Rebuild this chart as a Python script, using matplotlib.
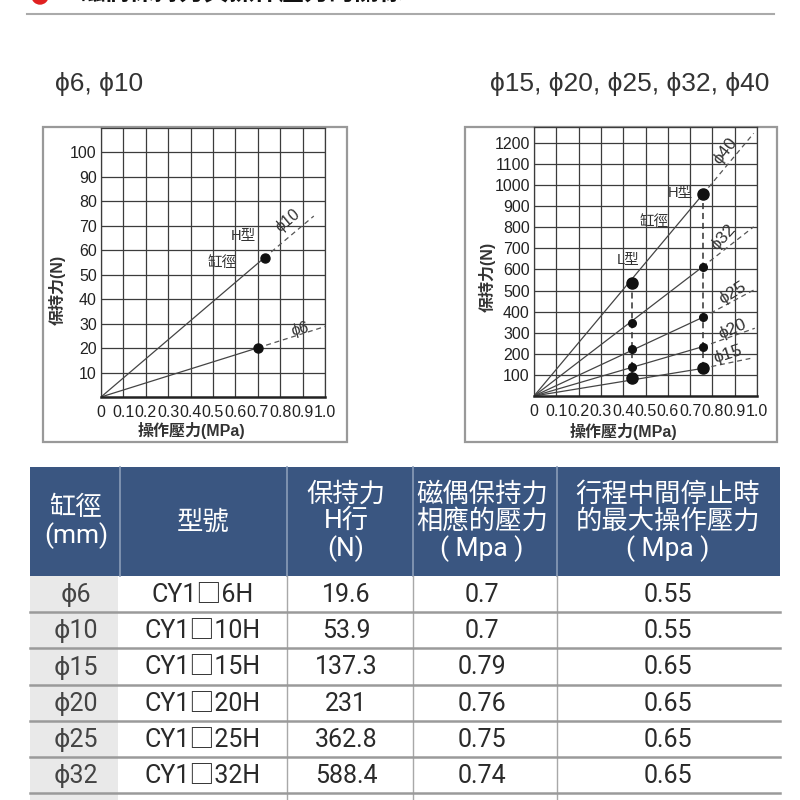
import matplotlib
matplotlib.use('Agg')
import matplotlib.pyplot as plt
from matplotlib.patches import Rectangle, Circle

W, H = 800, 800
FAM = ['Liberation Sans', 'Noto Sans CJK TC', 'DejaVu Sans']
TFAM = ['Roboto', 'Noto Sans CJK TC', 'DejaVu Sans']
plt.rcParams['font.family'] = FAM

# ---------------- data ----------------
title_text = "磁偶保持力與操作壓力的關係"
left_title = "ϕ6, ϕ10"
right_title = "ϕ15, ϕ20, ϕ25, ϕ32, ϕ40"

x_ticks = [0, 0.1, 0.2, 0.3, 0.4, 0.5, 0.6, 0.7, 0.8, 0.9, 1.0]
x_tick_labels = ["0", "0.1", "0.2", "0.3", "0.4", "0.5", "0.6", "0.7", "0.8", "0.9", "1.0"]
left_y_ticks = [10, 20, 30, 40, 50, 60, 70, 80, 90, 100]
right_y_ticks = [100, 200, 300, 400, 500, 600, 700, 800, 900, 1000, 1100, 1200]
x_label = "操作壓力(MPa)"
y_label = "保持力(N)"

# left chart (phi6, phi10), H type
left_bores = ["ϕ6", "ϕ10"]
left_dot_p = [0.70, 0.73]
left_dot_f = [20.1, 57.0]
left_end_p = [1.0, 0.95]
left_end_f = [28.8, 74.0]

# right chart (phi15 .. phi40)
right_bores = ["ϕ15", "ϕ20", "ϕ25", "ϕ32", "ϕ40"]
L_pressure = 0.44
L_force = [84, 136, 223, 347, 537]
H_pressure = 0.757
H_force = [131, 234, 373, 613, 956]
right_end_p = [0.97, 0.99, 0.985, 0.985, 0.985]
right_end_f = [178, 321, 502, 802, 1245]

# table
table_header = ["缸徑\n(mm)", "型號", "保持力\nH行\n(N)",
                "磁偶保持力\n相應的壓力\n( Mpa )", "行程中間停止時\n的最大操作壓力\n( Mpa )"]
bore_col = ["ϕ6", "ϕ10", "ϕ15", "ϕ20", "ϕ25", "ϕ32"]
model_col = ["CY1□6H", "CY1□10H", "CY1□15H", "CY1□20H", "CY1□25H", "CY1□32H"]
hold_force = ["19.6", "53.9", "137.3", "231", "362.8", "588.4"]
coupling_pressure = ["0.7", "0.7", "0.79", "0.76", "0.75", "0.74"]
max_pressure = ["0.55", "0.55", "0.65", "0.65", "0.65", "0.65"]

# ---------------- figure ----------------
fig = plt.figure(figsize=(8, 8), dpi=100)
bg = fig.add_axes([0, 0, 1, 1])
bg.set_xlim(0, W)
bg.set_ylim(H, 0)
bg.axis('off')

# top title fragment (cut off at the top edge, as in the reference)
bg.add_patch(Circle((40, -4), 8, color='#e02020', clip_on=False))
bg.text(80, 5, title_text, fontsize=18, fontweight='bold', color='#111',
        ha='left', va='bottom', family=FAM)
bg.plot([27, 774], [14, 14], color='#aaaaaa', lw=1.5)

# sub titles
bg.text(55, 84, left_title, fontsize=19, color='#333', ha='left', va='center')
bg.text(490, 84, right_title, fontsize=19, color='#333', ha='left', va='center')

# panel boxes
bg.add_patch(Rectangle((43, 127), 304, 315, fill=False, ec='#999999', lw=1.6))
bg.add_patch(Rectangle((465, 127), 312, 315, fill=False, ec='#999999', lw=1.6))

TICK_FS = 11.5


def make_chart(left, top, right, bottom, ymax, yticks):
    ax = fig.add_axes([left / W, 1 - bottom / H, (right - left) / W, (bottom - top) / H])
    ax.set_xlim(0, 1.0)
    ax.set_ylim(0, ymax)
    ax.set_xticks(x_ticks)
    ax.set_xticklabels(x_tick_labels, fontsize=TICK_FS, color='#222')
    ax.set_yticks(yticks)
    ax.set_yticklabels([str(v) for v in yticks], fontsize=TICK_FS, color='#222')
    ax.tick_params(length=0, pad=3)
    ax.tick_params(axis='x', pad=6)
    ax.grid(True, color='#3c3c3c', lw=0.9)
    ax.set_axisbelow(True)
    for s in ax.spines.values():
        s.set_color('#3c3c3c')
        s.set_linewidth(0.9)
    ax.spines['bottom'].set_linewidth(1.8)
    ax.spines['bottom'].set_color('#222')
    ax.patch.set_alpha(0)
    return ax


# ---- left chart ----
axL = make_chart(101, 128, 325, 397, 110, left_y_ticks)
for p, f, ep, ef in zip(left_dot_p, left_dot_f, left_end_p, left_end_f):
    axL.plot([0, p], [0, f], color='#444', lw=0.9)
    axL.plot([p, ep], [f, ef], color='#555', lw=0.9, ls=(0, (4, 3)))
    axL.plot([p], [f], 'o', color='#111', ms=6.5)
axL.text(0.634, 66, "H型", fontsize=10.5, color='#333', ha='center', va='center')
axL.text(0.54, 55, "缸徑", fontsize=10.5, color='#333', ha='center', va='center')
axL.text(0.835, 72, left_bores[1], fontsize=11.5, color='#333', ha='center', va='center', rotation=40)
axL.text(0.89, 27.5, left_bores[0], fontsize=11.5, color='#333', ha='center', va='center', rotation=15)
fig.text(191 / W, 1 - 431 / H, x_label, fontsize=11.5, fontweight='bold', color='#333',
         ha='center', va='center')
fig.text(57 / W, 1 - 290 / H, y_label, fontsize=11.5, fontweight='bold', color='#333',
         ha='center', va='center', rotation=90)

# ---- right chart ----
axR = make_chart(534, 127, 757, 396, 1275, right_y_ticks)
for fl, fh, ep, ef in zip(L_force, H_force, right_end_p, right_end_f):
    axR.plot([0, H_pressure], [0, fh], color='#444', lw=0.9)
    axR.plot([H_pressure, ep], [fh, ef], color='#555', lw=0.9, ls=(0, (4, 3)))
axR.plot([L_pressure, L_pressure], [min(L_force), max(L_force)], color='#333', lw=1.1, ls=(0, (4, 2.5)))
axR.plot([H_pressure, H_pressure], [min(H_force), max(H_force)], color='#333', lw=1.1, ls=(0, (4, 2.5)))
for i, (fl, fh) in enumerate(zip(L_force, H_force)):
    big = i in (0, len(L_force) - 1)
    ms = 8 if big else 5.5
    axR.plot([L_pressure], [fl], 'o', color='#111', ms=ms)
    axR.plot([H_pressure], [fh], 'o', color='#111', ms=ms)
axR.text(0.655, 962, "H型", fontsize=10.5, color='#333', ha='center', va='center')
axR.text(0.54, 825, "缸徑", fontsize=10.5, color='#333', ha='center', va='center')
axR.text(0.42, 645, "L型", fontsize=10.5, color='#333', ha='center', va='center')
lab_pos = [(0.87, 196, 18), (0.89, 315, 24), (0.89, 490, 32), (0.85, 752, 48), (0.856, 1160, 52)]
for name, (px, py, rot) in zip(right_bores, lab_pos):
    axR.text(px, py, name, fontsize=12.5, color='#333', ha='center', va='center', rotation=rot)
fig.text(623 / W, 1 - 432 / H, x_label, fontsize=11.5, fontweight='bold', color='#333',
         ha='center', va='center')
fig.text(487 / W, 1 - 277 / H, y_label, fontsize=11.5, fontweight='bold', color='#333',
         ha='center', va='center', rotation=90)

# ---------------- table ----------------
col_edges = [30, 120, 287, 413, 557, 780]
col_centers = [76, 203, 346, 482, 668]
hdr_top, hdr_bot = 467, 576
row_h = 36.2
hdr_color = '#3a5681'

bg.add_patch(Rectangle((col_edges[0], hdr_top), col_edges[-1] - col_edges[0], hdr_bot - hdr_top,
                       color=hdr_color, lw=0))
for x in col_edges[1:-1]:
    bg.plot([x, x], [hdr_top, hdr_bot], color='#8a9cb8', lw=1.2)
hdr_cy = (hdr_top + hdr_bot) / 2 + 0.5
for c, txt in zip(col_centers, table_header):
    bg.text(c, hdr_cy, txt, fontsize=19, color='white', ha='center', va='center',
            linespacing=1.1, family=TFAM)

n = len(bore_col)
body_bottom = 800
# first column grey cells
bg.add_patch(Rectangle((col_edges[0], hdr_bot), col_edges[1] - 2 - col_edges[0], body_bottom - hdr_bot,
                       color='#e9e9e9', lw=0))
for x in col_edges[2:-1]:
    bg.plot([x, x], [hdr_bot, body_bottom], color='#a8a8a8', lw=1.0)
cols = [bore_col, model_col, hold_force, coupling_pressure, max_pressure]
colors = ['#444', '#2a2a2a', '#2a2a2a', '#2a2a2a', '#2a2a2a']
for i in range(n):
    cy = hdr_bot + (i + 0.5) * row_h
    for c, col, clr in zip(col_centers, cols, colors):
        bg.text(c, cy + 1, col[i], fontsize=18, color=clr, ha='center', va='center', family=TFAM)
    yline = hdr_bot + (i + 1) * row_h
    bg.plot([col_edges[0], col_edges[-1]], [yline, yline], color='#9a9a9a', lw=1.8)

fig.savefig('out.png', dpi=100)
